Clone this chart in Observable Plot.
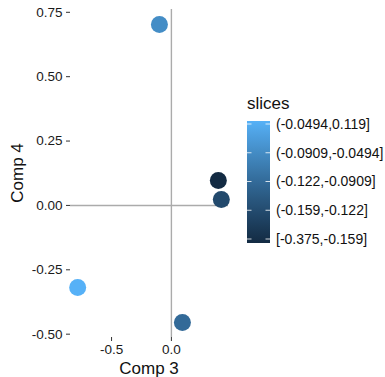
<!DOCTYPE html>
<html>
<head>
<meta charset="utf-8">
<script src="https://cdn.jsdelivr.net/npm/d3@7"></script>
<script src="https://cdn.jsdelivr.net/npm/@observablehq/plot@0.6"></script>
<style>
  html, body { margin: 0; padding: 0; background: white; }
  #chart { width: 385px; height: 377px; }
</style>
</head>
<body>
<div id="chart"></div>
<script>
// Data
const comp3 = [-0.783, -0.100, 0.092, 0.392, 0.417];
const comp4 = [-0.319, 0.703, -0.455, 0.097, 0.023];
const sliceBin = [5, 4, 3, 1, 2];
const sliceLabels = ["[-0.375,-0.159]", "(-0.159,-0.122]", "(-0.122,-0.0909]", "(-0.0909,-0.0494]", "(-0.0494,0.119]"];
const xTicks = [-0.5, 0];
const yTicks = [-0.5, -0.25, 0, 0.25, 0.5, 0.75];

const data = comp3.map((x, i) => ({x, y: comp4[i], bin: sliceBin[i]}));

function expand(arr) {
  const [a, b] = d3.extent(arr);
  const p = (b - a) * 0.05;
  return [a - p, b + p];
}

const lowC = "#132B43", highC = "#56B1F7";
const font = "'Liberation Sans', Arial, Helvetica, sans-serif";

const W = 385, H = 377, mL = 70, mR = 157, mT = 9, mB = 40;

const svg = Plot.plot({
  width: W, height: H,
  marginLeft: mL, marginRight: mR, marginTop: mT, marginBottom: mB,
  style: {fontFamily: font, fontSize: "13.5px", background: "white", color: "#1a1a1a"},
  x: {domain: expand(comp3)},
  y: {domain: expand(comp4)},
  color: {type: "linear", domain: [1, 5], range: [lowC, highC], interpolate: d3.interpolateLab},
  marks: [
    Plot.ruleX([0], {stroke: "#ababab", strokeWidth: 1.4}),
    Plot.ruleY([0], {stroke: "#ababab", strokeWidth: 1.4}),
    Plot.dot(data, {x: "x", y: "y", fill: "bin", r: 8.5}),
    Plot.axisX({ticks: xTicks, tickFormat: d => d.toFixed(1), tickSize: 4, tickPadding: 3, label: null, stroke: "#333"}),
    Plot.axisY({ticks: yTicks, tickFormat: d => d.toFixed(2), tickSize: 4, tickPadding: 4, label: null, stroke: "#333"})
  ]
});

const root = d3.select(svg);
// axis titles
root.append("text").attr("x", (mL + W - mR) / 2).attr("y", 374)
  .attr("text-anchor", "middle").attr("font-family", font).attr("font-size", 17).attr("fill", "#111").text("Comp 3");
root.append("text").attr("transform", `translate(23,${(mT + H - mB) / 2}) rotate(-90)`)
  .attr("text-anchor", "middle").attr("font-family", font).attr("font-size", 17).attr("fill", "#111").text("Comp 4");

// legend (colourbar)
const bx = 247, bw = 23, bTop = 121, bBot = 243, tTop = 124, tBot = 239;
const defs = root.append("defs");
const grad = defs.append("linearGradient").attr("id", "cbar").attr("x1", 0).attr("x2", 0).attr("y1", 1).attr("y2", 0);
const interp = d3.interpolateLab(lowC, highC);
for (let i = 0; i <= 20; i++) {
  grad.append("stop").attr("offset", i / 20).attr("stop-color", interp(i / 20));
}
root.append("rect").attr("x", bx).attr("y", bTop).attr("width", bw).attr("height", bBot - bTop).attr("fill", "url(#cbar)");
const ly = d3.scaleLinear().domain([1, 5]).range([tBot, tTop]);
const leg = root.append("g").attr("text-anchor", "start");
sliceLabels.forEach((lab, i) => {
  const y = ly(i + 1);
  leg.append("line").attr("x1", bx).attr("x2", bx + 4.5).attr("y1", y).attr("y2", y).attr("stroke", "white").attr("stroke-opacity", 0.8).attr("stroke-width", 1);
  leg.append("line").attr("x1", bx + bw - 4.5).attr("x2", bx + bw).attr("y1", y).attr("y2", y).attr("stroke", "white").attr("stroke-opacity", 0.8).attr("stroke-width", 1);
  leg.append("text").attr("x", bx + bw + 6).attr("y", y).attr("dy", "0.35em").attr("text-anchor", "start")
    .attr("font-family", font).attr("font-size", 14).attr("fill", "#111").text(lab);
});
root.append("text").attr("x", bx).attr("y", 109).attr("text-anchor", "start").attr("font-family", font).attr("font-size", 17).attr("fill", "#111").text("slices");

document.getElementById("chart").appendChild(svg);
</script>
</body>
</html>
